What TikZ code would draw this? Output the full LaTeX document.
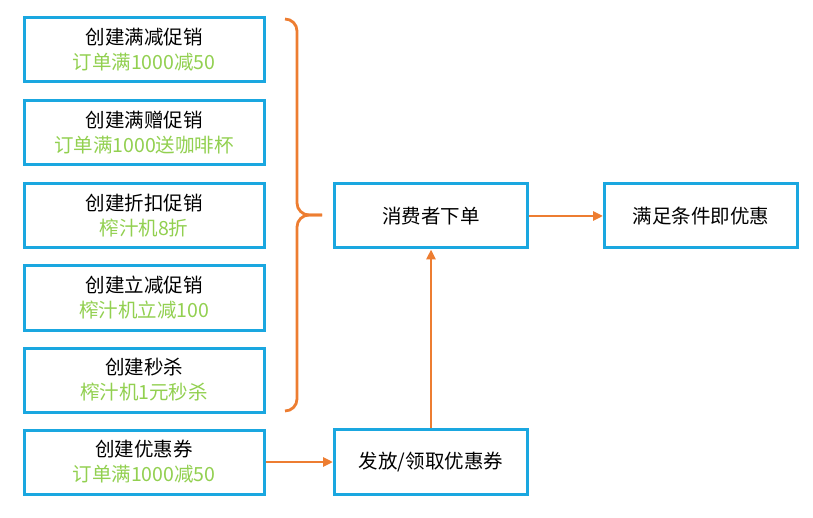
\documentclass[tikz,border=0pt]{standalone}
\usepackage{fontspec}
\setmainfont{Noto Sans CJK SC}
\usetikzlibrary{arrows.meta}
\definecolor{boxblue}{HTML}{1AA7E0}
\definecolor{linkorange}{HTML}{ED7D31}
\definecolor{textgreen}{HTML}{92D050}
\tikzset{
  box/.style={draw=boxblue, line width=3pt, fill=white, minimum width=240pt, minimum height=64pt, inner sep=0pt, align=center, font=\fontsize{19.5}{25}\selectfont},
  link/.style={draw=linkorange, line width=2.8pt, -{Triangle[length=10pt,width=9pt]}},
  bracestyle/.style={draw=linkorange, line width=2.8pt, rounded corners=12pt}
}
\newcommand{\gtext}[1]{\textcolor{textgreen}{#1}}
\begin{document}
\begin{tikzpicture}[x=1pt,y=-1pt]
\useasboundingbox (0,0) rectangle (813,518);
\node[box] (b1) at (144,50) {创建满减促销\\\gtext{订单满1000减50}};
\node[box] (b2) at (144,133) {创建满赠促销\\\gtext{订单满1000送咖啡杯}};
\node[box] (b3) at (144,216) {创建折扣促销\\\gtext{榨汁机8折}};
\node[box] (b4) at (144,298) {创建立减促销\\\gtext{榨汁机立减100}};
\node[box] (b5) at (144,380) {创建秒杀\\\gtext{榨汁机1元秒杀}};
\node[box] (b6) at (144,462) {创建优惠券\\\gtext{订单满1000减50}};
\node[box, minimum width=193pt] (order) at (431,216) {消费者下单};
\node[box, minimum width=193pt] (result) at (701,216) {满足条件即优惠};
\node[box, minimum width=193pt, minimum height=65pt] (coupon) at (431,462) {发放/领取优惠券};
\coordinate (bracetip) at (322,215);
\draw[bracestyle] (285,19) -| (297,215) -- (bracetip);
\draw[bracestyle] (bracetip) -- (297,215) |- (285,411);
\draw[link] (b6) -- (coupon);
\draw[link] (coupon) -- (order);
\draw[link] (order) -- (result);
\end{tikzpicture}
\end{document}
